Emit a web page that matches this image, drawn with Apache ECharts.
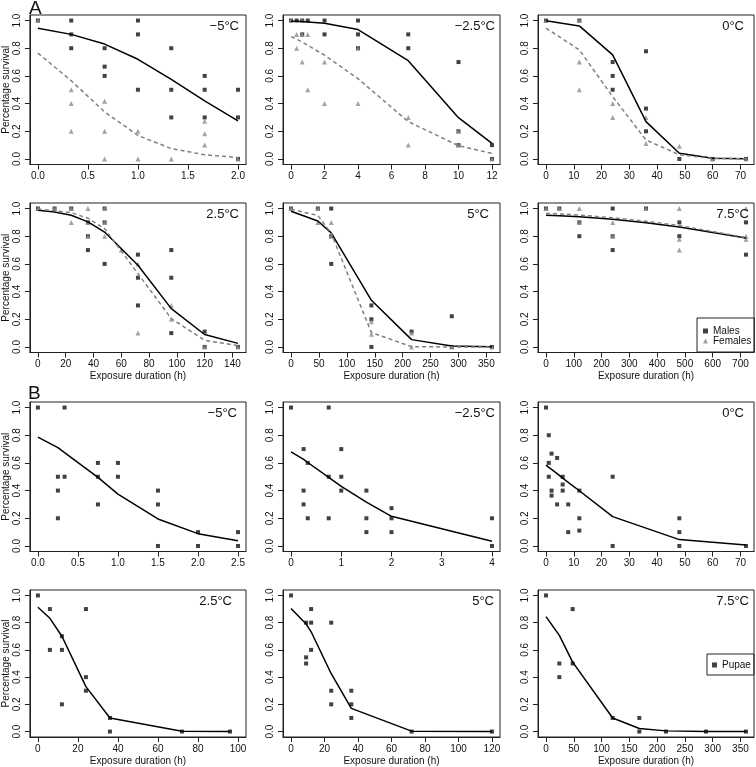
<!DOCTYPE html>
<html>
<head>
<meta charset="utf-8">
<script src="https://cdn.jsdelivr.net/npm/echarts@6/dist/echarts.min.js"></script>
<style>
html, body { margin: 0; padding: 0; background: #fff; }
#chart { width: 756px; height: 767px; }
</style>
</head>
<body>
<div id="chart"></div>
<script>
// tick labels
const yTicks = [0, 0.2, 0.4, 0.6, 0.8, 1];
const a1Ticks = [0, 0.5, 1, 1.5, 2];
const a2Ticks = [0, 2, 4, 6, 8, 10, 12];
const a3Ticks = [0, 10, 20, 30, 40, 50, 60, 70];
const a4Ticks = [0, 20, 40, 60, 80, 100, 120, 140];
const a5Ticks = [0, 50, 100, 150, 200, 250, 300, 350];
const a6Ticks = [0, 100, 200, 300, 400, 500, 600, 700];
const b1Ticks = [0, 0.5, 1, 1.5, 2, 2.5];
const b2Ticks = [0, 1, 2, 3, 4];
const b3Ticks = [0, 10, 20, 30, 40, 50, 60, 70];
const b4Ticks = [0, 20, 40, 60, 80, 100];
const b5Ticks = [0, 20, 40, 60, 80, 100, 120];
const b6Ticks = [0, 50, 100, 150, 200, 250, 300, 350];

// A: adults, males vs females
const a1FitX = [0, 0.333, 0.667, 1, 1.333, 1.667, 2];
const a1MaleFit = [0.945, 0.9, 0.83, 0.72, 0.575, 0.42, 0.275];
const a1FemaleFit = [0.765, 0.565, 0.34, 0.17, 0.075, 0.03, 0.01];
const a1Males = [[0,1],[0.333,1],[0.333,0.9],[0.333,0.8],[0.667,0.8],[0.667,0.667],[0.667,0.6],[1,1],[1,0.9],[1,0.5],[1.333,0.8],[1.333,0.5],[1.333,0.3],[1.667,0.6],[1.667,0.5],[1.667,0.3],[2,0.5],[2,0.3],[2,0]];
const a1Females = [[0,1],[0.333,0.5],[0.333,0.4],[0.333,0.2],[0.667,0.417],[0.667,0.2],[0.667,0],[1,0.2],[1,0],[1.333,0],[1.667,0.273],[1.667,0.182],[1.667,0.1],[2,0]];

const a2FitX = [0, 0.333, 0.667, 1, 2, 4, 7, 10, 12];
const a2MaleFit = [0.995, 0.994, 0.993, 0.99, 0.98, 0.935, 0.71, 0.298, 0.112];
const a2FemaleFit = [0.884, 0.865, 0.845, 0.82, 0.75, 0.58, 0.27, 0.096, 0.04];
const a2Males = [[0,1],[0.333,1],[0.667,1],[0.667,0.9],[1,1],[2,1],[2,0.9],[4,1],[4,0.9],[4,0.8],[7,0.9],[7,0.8],[10,0.7],[10,0.2],[10,0.1],[12,0.1],[12,0]];
const a2Females = [[0,1],[0.333,0.9],[0.333,0.8],[0.667,1],[0.667,0.9],[0.667,0.7],[1,0.9],[1,0.5],[2,0.7],[2,0.4],[4,0.8],[4,0.4],[7,0.3],[7,0.1],[10,0.2],[10,0.1],[12,0]];

const a3FitX = [0, 12, 24, 36, 48, 60, 72];
const a3MaleFit = [0.998, 0.961, 0.752, 0.27, 0.041, 0.005, 0.001];
const a3FemaleFit = [0.945, 0.788, 0.45, 0.137, 0.03, 0.004, 0.001];
const a3Males = [[0,1],[12,1],[24,0.7],[24,0.6],[24,0.5],[36,0.778],[36,0.364],[36,0.2],[48,0],[60,0],[72,0]];
const a3Females = [[0,1],[12,1],[12,0.7],[12,0.5],[24,0.4],[24,0.3],[36,0.3],[36,0.111],[48,0.091],[60,0],[72,0]];

const a4FitX = [0, 12, 24, 36, 48, 72, 96, 120, 144];
const a4MaleFit = [0.988, 0.975, 0.952, 0.904, 0.83, 0.59, 0.277, 0.09, 0.026];
const a4FemaleFit = [0.995, 0.985, 0.97, 0.93, 0.855, 0.53, 0.205, 0.048, 0.01];
const a4Males = [[0,1],[12,1],[24,1],[36,0.9],[36,0.8],[36,0.7],[48,1],[48,0.9],[48,0.6],[72,0.667],[72,0.5],[72,0.3],[96,0.7],[96,0.5],[96,0.1],[120,0.111],[120,0],[144,0]];
const a4Females = [[0,1],[12,1],[24,1],[24,0.9],[36,1],[36,0.9],[36,0.8],[48,1],[48,0.9],[48,0.8],[60,0.7],[72,0.6],[72,0.1],[96,0.3],[96,0.2],[120,0],[144,0]];

const a5FitX = [0, 48, 72, 144, 216, 288, 360];
const a5MaleFit = [0.98, 0.91, 0.824, 0.337, 0.053, 0.007, 0.001];
const a5FemaleFit = [0.995, 0.95, 0.82, 0.104, 0.002, 0, 0];
const a5Males = [[0,1],[48,1],[72,1],[72,0.8],[72,0.6],[144,0.3],[144,0.2],[144,0],[216,0.111],[288,0.222],[288,0],[360,0]];
const a5Females = [[0,1],[48,1],[48,0.9],[72,0.9],[72,0.8],[144,0.182],[144,0.091],[216,0.1],[216,0],[288,0],[360,0]];

const a6FitX = [0, 48, 120, 240, 360, 480, 720];
const a6MaleFit = [0.952, 0.948, 0.94, 0.922, 0.897, 0.867, 0.787];
const a6FemaleFit = [0.965, 0.961, 0.953, 0.933, 0.908, 0.877, 0.79];
const a6Males = [[0,1],[48,1],[120,0.9],[120,0.8],[240,1],[240,0.8],[240,0.7],[360,1],[480,0.9],[480,0.8],[720,0.9],[720,0.667]];
const a6Females = [[0,1],[48,1],[120,1],[120,0.9],[240,0.9],[240,0.8],[360,1],[480,1],[480,0.778],[480,0.7],[720,1],[720,0.8],[720,0.778]];

// B: pupae
const b1FitX = [0, 0.25, 0.333, 0.75, 1, 1.5, 2, 2.5];
const b1Fit = [0.786, 0.71, 0.675, 0.495, 0.375, 0.195, 0.089, 0.038];
const b1Pts = [[0,1],[0.25,0.5],[0.25,0.4],[0.25,0.2],[0.333,1],[0.333,0.5],[0.75,0.6],[0.75,0.5],[0.75,0.3],[1,0.6],[1,0.5],[1.5,0.4],[1.5,0.3],[1.5,0],[2,0.1],[2,0],[2.5,0.1],[2.5,0]];

const b2FitX = [0, 0.25, 0.333, 0.75, 1, 1.5, 2, 4];
const b2Fit = [0.68, 0.625, 0.603, 0.495, 0.43, 0.317, 0.214, 0.034];
const b2Pts = [[0,1],[0.25,0.7],[0.25,0.4],[0.25,0.3],[0.333,0.6],[0.333,0.2],[0.75,1],[0.75,0.5],[0.75,0.2],[1,0.7],[1,0.5],[1,0.4],[1.5,0.4],[1.5,0.2],[1.5,0.1],[2,0.273],[2,0.2],[2,0.1],[4,0.2],[4,0]];

const b3FitX = [0, 1, 2, 4, 6, 8, 12, 24, 48, 72];
const b3Fit = [0.584, 0.568, 0.553, 0.522, 0.49, 0.46, 0.399, 0.212, 0.046, 0.007];
const b3Pts = [[0,1],[1,0.8],[1,0.6],[1,0.5],[2,0.667],[2,0.4],[2,0.364],[4,0.636],[4,0.3],[6,0.5],[6,0.444],[6,0.4],[8,0.3],[8,0.1],[12,0.4],[12,0.2],[12,0.111],[24,0.5],[24,0],[48,0.2],[48,0.1],[48,0],[72,0]];

const b4FitX = [0, 6, 12, 24, 36, 72, 96];
const b4Fit = [0.913, 0.832, 0.7, 0.33, 0.1, 0.002, 0];
const b4Pts = [[0,1],[6,0.9],[6,0.6],[12,0.7],[12,0.6],[12,0.2],[24,0.9],[24,0.4],[24,0.3],[36,0.1],[36,0],[72,0],[96,0]];

const b5FitX = [0, 9, 12, 24, 36, 72, 120];
const b5Fit = [0.904, 0.79, 0.733, 0.425, 0.17, 0.003, 0];
const b5Pts = [[0,1],[9,0.8],[9,0.545],[9,0.5],[12,0.9],[12,0.8],[12,0.6],[24,0.8],[24,0.3],[24,0.2],[36,0.3],[36,0.2],[36,0.1],[72,0],[120,0]];

const b6FitX = [0, 24, 48, 120, 168, 216, 288, 360];
const b6Fit = [0.844, 0.707, 0.51, 0.1, 0.022, 0.005, 0.001, 0];
const b6Pts = [[0,1],[24,0.5],[24,0.4],[48,0.9],[48,0.5],[120,0.1],[168,0.1],[168,0],[216,0],[288,0],[360,0]];

const panels = [
  { label: '−5°C', xMax: 2, dec: 1, ticks: a1Ticks, fitX: a1FitX, fits: [a1MaleFit, a1FemaleFit], pts: [a1Males, a1Females] },
  { label: '−2.5°C', xMax: 12, dec: 0, ticks: a2Ticks, fitX: a2FitX, fits: [a2MaleFit, a2FemaleFit], pts: [a2Males, a2Females] },
  { label: '0°C', xMax: 72, dec: 0, ticks: a3Ticks, fitX: a3FitX, fits: [a3MaleFit, a3FemaleFit], pts: [a3Males, a3Females] },
  { label: '2.5°C', xMax: 144, dec: 0, ticks: a4Ticks, fitX: a4FitX, fits: [a4MaleFit, a4FemaleFit], pts: [a4Males, a4Females] },
  { label: '5°C', xMax: 360, dec: 0, ticks: a5Ticks, fitX: a5FitX, fits: [a5MaleFit, a5FemaleFit], pts: [a5Males, a5Females] },
  { label: '7.5°C', xMax: 720, dec: 0, ticks: a6Ticks, fitX: a6FitX, fits: [a6MaleFit, a6FemaleFit], pts: [a6Males, a6Females] },
  { label: '−5°C', xMax: 2.5, dec: 1, ticks: b1Ticks, fitX: b1FitX, fits: [b1Fit], pts: [b1Pts] },
  { label: '−2.5°C', xMax: 4, dec: 0, ticks: b2Ticks, fitX: b2FitX, fits: [b2Fit], pts: [b2Pts] },
  { label: '0°C', xMax: 72, dec: 0, ticks: b3Ticks, fitX: b3FitX, fits: [b3Fit], pts: [b3Pts] },
  { label: '2.5°C', xMax: 100, dec: 0, ticks: b4Ticks, fitX: b4FitX, fits: [b4Fit], pts: [b4Pts] },
  { label: '5°C', xMax: 120, dec: 0, ticks: b5Ticks, fitX: b5FitX, fits: [b5Fit], pts: [b5Pts] },
  { label: '7.5°C', xMax: 360, dec: 0, ticks: b6Ticks, fitX: b6FitX, fits: [b6Fit], pts: [b6Pts] }
];

// layout (px)
const colLeft = [28, 283, 538];
const colWidth = [218, 217, 216];
const rowTop = [15, 203, 402, 590];
const rowHeight = 149.5;
const labelRightX = [239, 495, 744, 239, 489, 749, 237, 495, 744, 232, 494, 749];
const labelMidY = [28, 28, 28, 216, 216, 216, 415, 415, 415, 603, 603, 603];

const font = 'Liberation Sans, Arial, Helvetica, sans-serif';
const ink = '#111';

const grids = [], xAxes = [], yAxes = [], series = [], titles = [];

panels.forEach((p, i) => {
  const row = Math.floor(i / 3), col = i % 3;
  const pad = p.xMax * 0.04;
  grids.push({
    left: colLeft[col], top: rowTop[row], width: colWidth[col], height: rowHeight,
    show: true, borderColor: '#222', borderWidth: 1, backgroundColor: 'transparent'
  });
  xAxes.push({
    gridIndex: i, type: 'value', min: -pad, max: p.xMax + pad,
    axisLine: { show: true, onZero: false, lineStyle: { color: '#222' } },
    axisTick: { show: true, length: 5, customValues: p.ticks, lineStyle: { color: '#222' } },
    axisLabel: { customValues: p.ticks, formatter: v => v.toFixed(p.dec), margin: 7, fontSize: 10, color: ink, fontFamily: font },
    splitLine: { show: false },
    name: (row === 1 || row === 3) ? 'Exposure duration (h)' : '',
    nameLocation: 'middle', nameGap: 19,
    nameTextStyle: { fontSize: 10, color: ink, fontFamily: font }
  });
  yAxes.push({
    gridIndex: i, type: 'value', min: -0.04, max: 1.04,
    axisLine: { show: true, onZero: false, lineStyle: { color: '#222' } },
    axisTick: { show: true, length: 5, customValues: yTicks, lineStyle: { color: '#222' } },
    axisLabel: { customValues: yTicks, formatter: v => v.toFixed(1), rotate: 90, margin: 8, fontSize: 10, color: ink, fontFamily: font },
    splitLine: { show: false },
    name: col === 0 ? 'Percentage survival' : '',
    nameLocation: 'middle', nameGap: 17,
    nameTextStyle: { fontSize: 10, color: ink, fontFamily: font }
  });

  const isA = p.fits.length === 2;
  const ptNames = isA ? ['Males', 'Females'] : ['Pupae'];
  const ptSymbols = isA ? ['rect', 'triangle'] : ['rect'];
  const ptSizes = isA ? [4, 5] : [4];
  const ptColors = isA ? ['#111', '#8c8c8c'] : ['#111'];
  p.pts.forEach((pts, k) => {
    series.push({
      type: 'scatter', name: ptNames[k], xAxisIndex: i, yAxisIndex: i,
      symbol: ptSymbols[k], symbolSize: ptSizes[k],
      itemStyle: { color: ptColors[k] },
      data: pts, z: 3
    });
  });
  p.fits.forEach((fit, k) => {
    series.push({
      type: 'line', name: ptNames[k] + ' fit', xAxisIndex: i, yAxisIndex: i,
      showSymbol: false, symbol: 'none',
      lineStyle: k === 0
        ? { color: '#000', width: 1.5 }
        : { color: '#808080', width: 1.5, type: [4, 3] },
      data: p.fitX.map((x, j) => [x, fit[j]]), z: 4
    });
  });

  titles.push({
    text: p.label, right: 756 - labelRightX[i], top: labelMidY[i] - 8, padding: 0,
    textStyle: { fontSize: 13, fontWeight: 'normal', color: ink, fontFamily: font }
  });
});

titles.push({ text: 'A', left: 29, top: -1, padding: 0, textStyle: { fontSize: 19, fontWeight: 'normal', color: ink, fontFamily: font } });
titles.push({ text: 'B', left: 28, top: 384, padding: 0, textStyle: { fontSize: 19, fontWeight: 'normal', color: ink, fontFamily: font } });

const chart = echarts.init(document.getElementById('chart'));
chart.setOption({
  animation: false,
  backgroundColor: '#fff',
  textStyle: { fontFamily: font },
  title: titles,
  legend: [
    {
      data: [{ name: 'Males', icon: 'rect' }, { name: 'Females', icon: 'triangle' }],
      orient: 'vertical', left: 697, top: 318, padding: [8, 3, 6, 6],
      itemWidth: 5, itemHeight: 5, itemGap: 0,
      borderColor: '#222', borderWidth: 1, selectedMode: false,
      textStyle: { fontSize: 10, lineHeight: 10, color: ink, fontFamily: font }
    },
    {
      data: [{ name: 'Pupae', icon: 'rect' }],
      orient: 'vertical', left: 707, top: 654, padding: [6, 3, 5, 5],
      itemWidth: 5, itemHeight: 5, itemGap: 0,
      borderColor: '#222', borderWidth: 1, selectedMode: false,
      textStyle: { fontSize: 10, lineHeight: 10, color: ink, fontFamily: font }
    }
  ],
  grid: grids,
  xAxis: xAxes,
  yAxis: yAxes,
  series: series
});
</script>
</body>
</html>
